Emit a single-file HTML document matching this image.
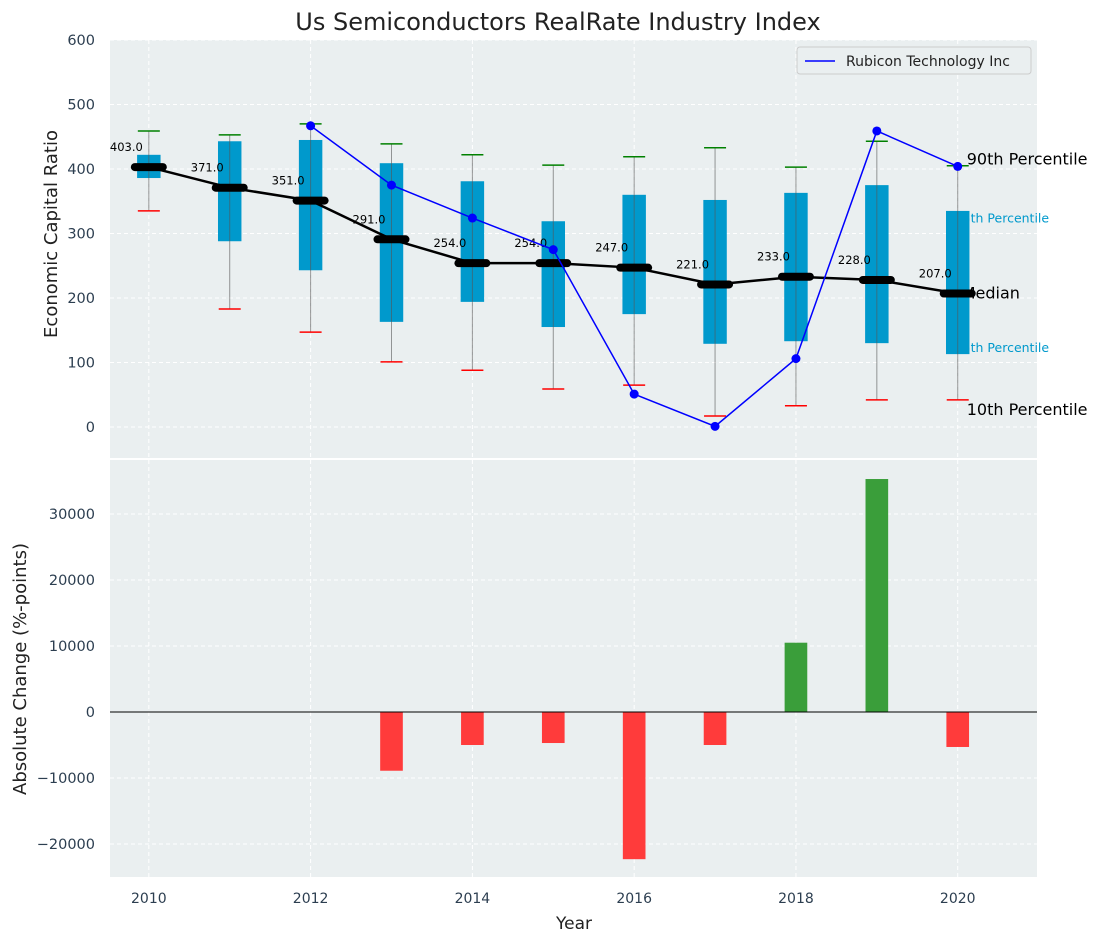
<!DOCTYPE html>
<html><head><meta charset="utf-8"><style>
body{margin:0;background:#fff;font-family:"Liberation Sans","DejaVu Sans",sans-serif}
svg text{font-family:"DejaVu Sans","Liberation Sans",sans-serif}
</style></head><body>
<svg id="c" width="1102" height="942" xmlns="http://www.w3.org/2000/svg"></svg>
<script>
const years=[2010,2011,2012,2013,2014,2015,2016,2017,2018,2019,2020];
const q1=[386,288,243,163,194,155,175,129,133,130,113];
const q3=[422,443,445,409,381,319,360,352,363,375,335];
const p10=[335,183,147,101,88,59,65,17,33,42,42];
const p90=[459,453,470,439,422,406,419,433,403,443,405];
const medians=[403,371,351,291,254,254,247,221,233,228,207];
const rubYears=[2012,2013,2014,2015,2016,2017,2018,2019,2020];
const rubVals=[467,375,324,275,51,1,106,459,404];
const chgYears=[2013,2014,2015,2016,2017,2018,2019,2020];
const chgVals=[-8900,-5000,-4700,-22300,-5000,10500,35300,-5300];
const topTicks=[0,100,200,300,400,500,600];
const botTicks=[-20000,-10000,0,10000,20000,30000];
const xTicks=[2010,2012,2014,2016,2018,2020];

const svg=document.getElementById('c');const NS='http://www.w3.org/2000/svg';
function el(t,a,p){const e=document.createElementNS(NS,t);for(const k in a)e.setAttribute(k,a[k]);(p||svg).appendChild(e);return e;}
const L=110,R=1037;
const X=v=>L+(v-2009.52)/(2020.98-2009.52)*(R-L);
const Y1=v=>427-v*0.645;
const Y2=v=>712-v*0.0066;
const T1=40,B1=458,T2=460,B2=877;

let r=el('rect',{x:L,y:T1,width:R-L,height:B1-T1,fill:'#eaeff0'});

r=el('rect',{x:L,y:T2,width:R-L,height:B2-T2,fill:'#eaeff0'});


xTicks.forEach(t=>{
  [[T1,B1],[T2,B2]].forEach(([a,b])=>{const g=el('line',{x1:X(t),x2:X(t),y1:a,y2:b,stroke:'#fff','stroke-dasharray':'4,3','stroke-width':1});});
  const tx=el('text',{x:X(t),y:903,'font-size':14,fill:'#2c3e50','text-anchor':'middle'});tx.textContent=t;
  
});
topTicks.forEach(t=>{
  const g=el('line',{x1:L,x2:R,y1:Y1(t),y2:Y1(t),stroke:'#fff','stroke-dasharray':'4,3'});
  const tx=el('text',{x:95,y:Y1(t)+5,'font-size':14.5,fill:'#2c3e50','text-anchor':'end'});tx.textContent=t;
  
});
botTicks.forEach(t=>{
  const g=el('line',{x1:L,x2:R,y1:Y2(t),y2:Y2(t),stroke:'#fff','stroke-dasharray':'4,3'});
  const tx=el('text',{x:95,y:Y2(t)+5,'font-size':14.5,fill:'#2c3e50','text-anchor':'end'});tx.textContent=t<0?'\u2212'+(-t):t;
  
});

const i20=years.length-1,xa=X(years[i20])+9;
[['90th Percentile',p90[i20]+10,16,'#000',xa],['75th Percentile',q3[i20]-10,12.5,'#0099cc',xa-12],['Median',medians[i20],16,'#000',xa-5],['25th Percentile',q1[i20]+11,12.5,'#0099cc',xa-12],['10th Percentile',p10[i20]-16,16,'#000',xa]].forEach(([s,v,f,c,x])=>{
  const t=el('text',{x:x,y:Y1(v)+5,'font-size':f,fill:c});t.textContent=s;
  
});

const bw=0.29;
years.forEach((y,i)=>{
  const b=el('rect',{x:X(y-bw/2),y:Y1(q3[i]),width:X(y+bw/2)-X(y-bw/2),height:Y1(q1[i])-Y1(q3[i]),fill:'#0099cc'});
  
  const w=el('line',{x1:X(y),x2:X(y),y1:Y1(p90[i]),y2:Y1(p10[i]),stroke:'#555','stroke-opacity':0.6,'stroke-width':1});
  
  const h=el('line',{x1:X(y)-11,x2:X(y)+11,y1:Y1(p90[i]),y2:Y1(p90[i]),stroke:'green','stroke-width':1.5});
  
  const l=el('line',{x1:X(y)-11,x2:X(y)+11,y1:Y1(p10[i]),y2:Y1(p10[i]),stroke:'red','stroke-width':1.5});
  
});
let pts=years.map((y,i)=>X(y)+','+Y1(medians[i])).join(' ');
let ml=el('polyline',{points:pts,fill:'none',stroke:'#000','stroke-width':2.5});

years.forEach((y,i)=>{
  const m=el('line',{x1:X(y)-14,x2:X(y)+14,y1:Y1(medians[i]),y2:Y1(medians[i]),stroke:'#000','stroke-width':8,'stroke-linecap':'round'});
  
  const t=el('text',{x:X(y)-6,y:Y1(medians[i])-16,'font-size':11.5,fill:'#000','text-anchor':'end'});t.textContent=medians[i].toFixed(1);
  
});
pts=rubYears.map((y,i)=>X(y)+','+Y1(rubVals[i])).join(' ');
let rl=el('polyline',{points:pts,fill:'none',stroke:'#0000ff','stroke-width':1.5});

rubYears.forEach((y,i)=>{const c=el('circle',{cx:X(y),cy:Y1(rubVals[i]),r:4.5,fill:'#0000ff'});});

const lg=el('g',{});
el('rect',{x:797,y:47,width:234,height:27,rx:3,fill:'#eaeff0',stroke:'#ccc'},lg);
el('line',{x1:805,x2:835,y1:61,y2:61,stroke:'#0000ff','stroke-width':1.5},lg);
let lt=el('text',{x:846,y:66,'font-size':14,fill:'#222'},lg);lt.textContent='Rubicon Technology Inc';


chgYears.forEach((y,i)=>{
  const v=chgVals[i];
  const b=el('rect',{x:X(y-0.14),y:Math.min(Y2(0),Y2(v)),width:X(y+0.14)-X(y-0.14),height:Math.abs(Y2(v)-Y2(0)),fill:v>=0?'#3a9e3a':'#ff3b3b'});
  
});
let z=el('line',{x1:L,x2:R,y1:Y2(0),y2:Y2(0),stroke:'#000','stroke-width':1});


let t=el('text',{x:558,y:30,'font-size':24,fill:'#222','text-anchor':'middle'});t.textContent='Us Semiconductors RealRate Industry Index';

t=el('text',{x:574,y:929,'font-size':17,fill:'#222','text-anchor':'middle'});t.textContent='Year';

t=el('text',{x:0,y:0,'font-size':18,fill:'#222','text-anchor':'middle',transform:'translate(57,234) rotate(-90)'});t.textContent='Economic Capital Ratio';

t=el('text',{x:0,y:0,'font-size':18,fill:'#222','text-anchor':'middle',transform:'translate(26,669) rotate(-90)'});t.textContent='Absolute Change (%-points)';

</script>
</body></html>
